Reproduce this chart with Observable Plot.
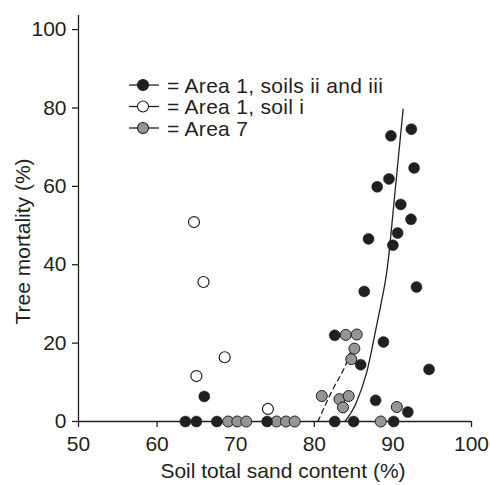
<!DOCTYPE html>
<html><head><meta charset="utf-8">
<script src="https://cdn.jsdelivr.net/npm/d3@7"></script>
<script src="https://cdn.jsdelivr.net/npm/@observablehq/plot@0.6"></script>
<style>body{margin:0;background:#fff} #chart{width:490px;height:485px}</style>
</head><body><div id="chart"></div>
<script>
// Area 1, soils ii and iii (filled black)
const blackX = [63.6, 65.0, 66.0, 67.6, 74.0, 82.6, 82.6, 85.0, 85.9, 86.35, 86.9, 87.8, 88.0, 88.8, 89.5, 89.75, 90.0, 90.1, 90.6, 91.0, 91.9, 92.3, 92.35, 92.7, 93.0, 94.6];
const blackY = [0, 0, 6.4, 0, 0, 0, 22.0, 0, 14.5, 33.2, 46.6, 5.4, 59.9, 20.3, 61.9, 72.9, 45.0, 0, 48.1, 55.4, 2.4, 51.6, 74.6, 64.7, 34.3, 13.3];
// Area 1, soil i (open)
const openX = [64.7, 65.0, 65.9, 68.6, 74.1];
const openY = [50.9, 11.6, 35.6, 16.4, 3.2];
// Area 7 (grey)
const greyX = [69.05, 70.2, 71.35, 75.2, 76.4, 77.5, 80.95, 83.2, 83.65, 84.0, 84.37, 84.7, 85.1, 85.4, 88.45, 90.5];
const greyY = [0, 0, 0, 0, 0, 0, 6.5, 5.7, 3.6, 22.1, 6.5, 15.9, 18.6, 22.2, 0, 3.7];
// fitted curves
const solidX = [83.9, 85.3, 86.7, 88.06, 88.5, 89.25, 90.3, 91.3];
const solidY = [0, 4.6, 12.8, 25.8, 30.1, 38.6, 59.2, 79.7];
const dashX = [80.45, 82.3, 84.0, 85.0];
const dashY = [0, 8.0, 14.5, 20.0];
// axes
const xTicks = [50, 60, 70, 80, 90, 100];
const yTicks = [0, 20, 40, 60, 80, 100];
const xLabel = "Soil total sand content (%)";
const yLabel = "Tree mortality (%)";
const legendLabels = ["= Area 1, soils ii and iii", "= Area 1, soil i", "= Area 7"];

const INK = "#231f20", GREY = "#959595";
const toPts = (xs, ys) => xs.map((x, i) => ({x, y: ys[i]}));
const black = toPts(blackX, blackY), open = toPts(openX, openY), grey = toPts(greyX, greyY);
const solid = toPts(solidX, solidY), dashed = toPts(dashX, dashY);
const FONT = "'Liberation Sans', Arial, Helvetica, sans-serif";
const R = 5.5;

const plot = Plot.plot({
  width: 490, height: 485,
  marginLeft: 78, marginRight: 19, marginTop: 15, marginBottom: 64,
  x: {domain: [50, 100]},
  y: {domain: [0, 103.6]},
  style: {fontFamily: FONT, fontSize: "21px", color: INK, background: "#fff"},
  marks: [
    Plot.ruleY([0], {x1: 50, x2: 100, stroke: INK, strokeWidth: 1.3}),
    Plot.ruleX([50], {y1: 0, y2: 103.6, stroke: INK, strokeWidth: 1.3}),
    Plot.axisX({ticks: xTicks, tickSize: 6, tickPadding: 9, fontSize: 21, label: null, stroke: INK, strokeWidth: 1.3, fill: INK}),
    Plot.axisY({ticks: yTicks, tickSize: 6, tickPadding: 6, fontSize: 21, label: null, stroke: INK, strokeWidth: 1.3, fill: INK}),
    Plot.line(dashed, {x: "x", y: "y", stroke: INK, strokeWidth: 1.3, strokeDasharray: "5,4", curve: "monotone-x"}),
    Plot.line(solid, {x: "x", y: "y", stroke: INK, strokeWidth: 1.3, curve: "monotone-x"}),
    Plot.dot(grey, {x: "x", y: "y", r: R, fill: GREY, stroke: INK, strokeWidth: 1}),
    Plot.dot(open, {x: "x", y: "y", r: R, fill: "#fff", stroke: INK, strokeWidth: 1.2}),
    Plot.dot(black, {x: "x", y: "y", r: R, fill: INK, stroke: INK, strokeWidth: 0.5})
  ]
});

const svg = d3.select(plot);
// axis titles
svg.append("text").attr("x", 283).attr("y", 478).attr("text-anchor", "middle")
  .attr("font-size", 21).attr("font-family", FONT).attr("fill", INK).text(xLabel);
svg.append("text").attr("transform", "translate(30,241.5) rotate(-90)").attr("text-anchor", "middle")
  .attr("font-size", 21).attr("font-family", FONT).attr("fill", INK).text(yLabel);
// legend
const fills = [INK, "#fff", GREY];
const rowY = [85, 106.5, 128];
legendLabels.forEach((lab, i) => {
  const g = svg.append("g");
  g.append("line").attr("x1", 129).attr("x2", 159).attr("y1", rowY[i]).attr("y2", rowY[i])
    .attr("stroke", INK).attr("stroke-width", 1.3);
  g.append("circle").attr("cx", 143).attr("cy", rowY[i]).attr("r", R)
    .attr("fill", fills[i]).attr("stroke", INK).attr("stroke-width", 1.1);
  g.append("text").attr("x", 167).attr("y", rowY[i]).attr("dy", "0.36em").attr("text-anchor", "start")
    .attr("letter-spacing", "0.3px")
    .attr("font-size", 21).attr("font-family", FONT).attr("fill", INK).text(lab);
});
document.getElementById("chart").appendChild(plot);
</script>
</body></html>
